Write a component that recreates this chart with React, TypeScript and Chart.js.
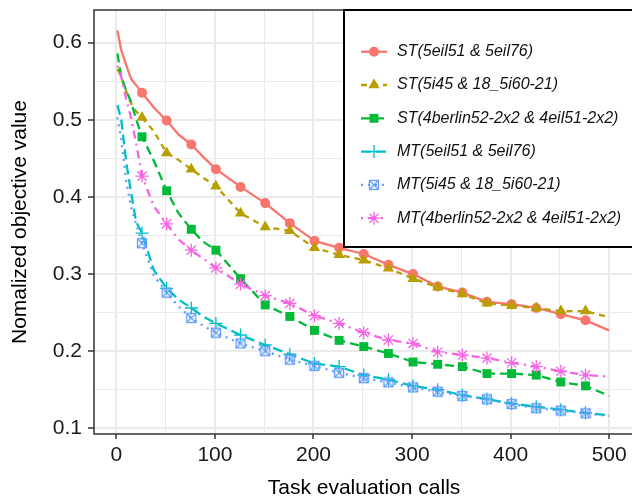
import React, { useEffect, useRef } from 'react';
import { Chart, registerables } from 'chart.js';
Chart.register(...registerables);

// Task evaluation calls at which values were read
const EVALS = [1, 5, 10, 15, 20, 26, 38, 51, 63, 76, 88, 101, 126, 151, 176, 201, 226, 251, 276, 301, 326, 351, 376, 401, 426, 451, 476, 500];

const ST_EIL = [0.616, 0.590, 0.571, 0.553, 0.545, 0.535, 0.516, 0.499, 0.481, 0.468, 0.452, 0.436, 0.413, 0.392, 0.366, 0.343, 0.334, 0.326, 0.312, 0.300, 0.284, 0.276, 0.264, 0.261, 0.256, 0.248, 0.240, 0.227];
const ST_5I45 = [0.566, 0.556, 0.537, 0.521, 0.511, 0.503, 0.485, 0.457, 0.448, 0.436, 0.425, 0.414, 0.379, 0.361, 0.356, 0.334, 0.325, 0.318, 0.3075, 0.294, 0.283, 0.274, 0.262, 0.259, 0.256, 0.252, 0.252, 0.244];
const ST_BERLIN = [0.586, 0.555, 0.538, 0.523, 0.501, 0.478, 0.447, 0.408, 0.379, 0.358, 0.342, 0.331, 0.294, 0.260, 0.245, 0.227, 0.214, 0.206, 0.197, 0.186, 0.183, 0.180, 0.171, 0.171, 0.169, 0.160, 0.155, 0.142];
const MT_EIL = [0.519, 0.500, 0.445, 0.405, 0.368, 0.353, 0.305, 0.2815, 0.267, 0.256, 0.245, 0.236, 0.221, 0.208, 0.196, 0.184, 0.180, 0.169, 0.163, 0.155, 0.150, 0.143, 0.138, 0.132, 0.128, 0.124, 0.120, 0.117];
const MT_5I45 = [0.503, 0.475, 0.420, 0.387, 0.365, 0.340, 0.298, 0.276, 0.258, 0.243, 0.233, 0.224, 0.210, 0.200, 0.189, 0.181, 0.172, 0.165, 0.1595, 0.153, 0.1475, 0.142, 0.1376, 0.1315, 0.126, 0.123, 0.1195, 0.116];
const MT_BERLIN = [0.570, 0.555, 0.527, 0.502, 0.470, 0.427, 0.388, 0.365, 0.345, 0.331, 0.320, 0.308, 0.287, 0.272, 0.262, 0.246, 0.236, 0.224, 0.2145, 0.210, 0.199, 0.195, 0.191, 0.185, 0.180, 0.174, 0.169, 0.167];

const SERIES_NAMES = [
  'ST(5eil51 & 5eil76)',
  'ST(5i45 & 18_5i60-21)',
  'ST(4berlin52-2x2 & 4eil51-2x2)',
  'MT(5eil51 & 5eil76)',
  'MT(5i45 & 18_5i60-21)',
  'MT(4berlin52-2x2 & 4eil51-2x2)',
];
const SERIES_VALUES = [ST_EIL, ST_5I45, ST_BERLIN, MT_EIL, MT_5I45, MT_BERLIN];

const X_TICKS = [0, 50, 100, 150, 200, 250, 300, 350, 400, 450, 500];
const Y_TICKS = [0.1, 0.15, 0.2, 0.25, 0.3, 0.35, 0.4, 0.45, 0.5, 0.55, 0.6];

const COLORS = ['#F8766D', '#B79F00', '#00BA38', '#00BFC4', '#619CFF', '#F564E3'];
const DASHES: number[][] = [[], [6, 5], [9, 5], [10, 5], [2, 5], [2, 5, 8, 5]];
const RADII = [5, 6.5, 6.3, 6.5, 6, 6.5];
const FONT = '"Liberation Sans", Arial, Helvetica, sans-serif';

function makeBoxCross(color: string) {
  const c = document.createElement('canvas');
  c.width = 12;
  c.height = 12;
  const g = c.getContext('2d')!;
  g.strokeStyle = color;
  g.lineWidth = 1.3;
  g.strokeRect(1.5, 1.5, 9, 9);
  g.beginPath();
  g.moveTo(1.5, 1.5); g.lineTo(10.5, 10.5);
  g.moveTo(10.5, 1.5); g.lineTo(1.5, 10.5);
  g.stroke();
  return c;
}

function isMarker(x: number) {
  return x > 1 && x < 500 && (x - 1) % 25 === 0;
}

function drawMarker(ctx: CanvasRenderingContext2D, i: number, x: number, y: number, boxCross: HTMLCanvasElement) {
  const col = COLORS[i];
  const r = RADII[i];
  ctx.save();
  ctx.setLineDash([]);
  ctx.fillStyle = col;
  ctx.strokeStyle = col;
  ctx.lineWidth = 1.3;
  ctx.beginPath();
  if (i === 0) {
    ctx.arc(x, y, r, 0, Math.PI * 2);
    ctx.fill();
  } else if (i === 1) {
    const w = r * Math.sin(Math.PI / 3);
    ctx.moveTo(x, y - r);
    ctx.lineTo(x + w, y + r / 2);
    ctx.lineTo(x - w, y + r / 2);
    ctx.closePath();
    ctx.fill();
  } else if (i === 2) {
    const s = r * Math.SQRT1_2;
    ctx.rect(x - s, y - s, 2 * s, 2 * s);
    ctx.fill();
  } else if (i === 3) {
    ctx.moveTo(x - r, y); ctx.lineTo(x + r, y);
    ctx.moveTo(x, y - r); ctx.lineTo(x, y + r);
    ctx.stroke();
  } else if (i === 4) {
    ctx.drawImage(boxCross, x - boxCross.width / 2, y - boxCross.height / 2);
  } else {
    ctx.moveTo(x - r, y); ctx.lineTo(x + r, y);
    ctx.moveTo(x, y - r); ctx.lineTo(x, y + r);
    const d = r * Math.SQRT1_2;
    ctx.moveTo(x - d, y - d); ctx.lineTo(x + d, y + d);
    ctx.moveTo(x + d, y - d); ctx.lineTo(x - d, y + d);
    ctx.stroke();
  }
  ctx.restore();
}

function zeroPadding(s: any) {
  s.paddingTop = 0;
  s.paddingBottom = 0;
  s.paddingLeft = 0;
  s.paddingRight = 0;
}

export default function App() {
  const ref = useRef<HTMLCanvasElement>(null);

  useEffect(() => {
    const boxCross = makeBoxCross(COLORS[4]);
    const styles: any[] = ['circle', 'triangle', 'rect', 'cross', boxCross, 'star'];

    const datasets = SERIES_VALUES.map((vals, i) => ({
      label: SERIES_NAMES[i],
      data: EVALS.map((x, k) => ({ x, y: vals[k] })),
      borderColor: COLORS[i],
      backgroundColor: COLORS[i],
      borderWidth: 2.3,
      borderDash: DASHES[i],
      borderCapStyle: 'butt',
      borderJoinStyle: 'round',
      tension: 0,
      pointStyle: styles[i],
      pointRadius: (c: any) => (isMarker(EVALS[c.dataIndex]) ? RADII[i] : 0),
      pointBackgroundColor: COLORS[i],
      pointBorderColor: COLORS[i],
      pointBorderWidth: i === 3 || i === 5 ? 1.3 : 0,
      pointHoverRadius: 0,
      order: 5 - i,
    }));

    const panelAndLegend = {
      id: 'panelAndLegend',
      afterDraw(chart: any) {
        const ctx: CanvasRenderingContext2D = chart.ctx;
        const a = chart.chartArea;
        ctx.save();
        ctx.strokeStyle = '#333333';
        ctx.lineWidth = 1.5;
        ctx.strokeRect(a.left, a.top, a.right - a.left, a.bottom - a.top);

        // legend box
        const bx = a.left + 250;
        const by = a.top;
        ctx.fillStyle = '#ffffff';
        ctx.fillRect(bx, by, 320, 237);
        ctx.strokeStyle = '#000000';
        ctx.lineWidth = 2;
        ctx.strokeRect(bx, by, 320, 237);

        for (let i = 0; i < SERIES_NAMES.length; i++) {
          const cy = by + 41.7 + i * 33.3;
          const x0 = bx + 17;
          const x1 = bx + 43;
          ctx.save();
          ctx.strokeStyle = COLORS[i];
          ctx.lineWidth = 2.3;
          ctx.setLineDash(DASHES[i]);
          ctx.beginPath();
          ctx.moveTo(x0, cy);
          ctx.lineTo(x1, cy);
          ctx.stroke();
          ctx.restore();
          drawMarker(ctx, i, (x0 + x1) / 2, cy, boxCross);
          ctx.fillStyle = '#111111';
          ctx.font = `italic 16px ${FONT}`;
          ctx.textAlign = 'left';
          ctx.textBaseline = 'middle';
          ctx.fillText(SERIES_NAMES[i], bx + 53, cy);
        }
        ctx.restore();
      },
    };

    const chart = new Chart(ref.current!, {
      type: 'line',
      data: { datasets } as any,
      options: {
        animation: false,
        responsive: false,
        devicePixelRatio: 1,
        layout: { autoPadding: false, padding: { left: 0, right: 11, top: 10, bottom: 0 } },
        plugins: { legend: { display: false }, tooltip: { enabled: false } },
        scales: {
          x: {
            type: 'linear',
            min: -22.7,
            max: 525.2,
            afterFit: (s: any) => { s.height = 65; zeroPadding(s); },
            afterBuildTicks: (s: any) => { s.ticks = X_TICKS.map((v) => ({ value: v })); },
            border: { display: false },
            grid: {
              color: '#EBEBEB',
              lineWidth: (c: any) => (c.tick && c.tick.value % 100 === 0 ? 2 : 1),
              tickColor: (c: any) => (c.tick && c.tick.value % 100 === 0 ? '#333333' : 'rgba(0,0,0,0)'),
              tickWidth: 1.5,
              tickLength: 5,
              drawTicks: true,
            },
            ticks: {
              autoSkip: false,
              maxRotation: 0,
              padding: 4,
              color: '#1a1a1a',
              font: { family: FONT, size: 21 },
              callback: (v: any) => (Number(v) % 100 === 0 ? String(v) : ''),
            },
            title: {
              display: true,
              text: 'Task evaluation calls',
              color: '#000000',
              font: { family: FONT, size: 21, lineHeight: 1 },
              padding: { top: 0, bottom: 0 },
            },
          },
          y: {
            type: 'linear',
            min: 0.0926,
            max: 0.6424,
            afterFit: (s: any) => { s.width = 94; zeroPadding(s); },
            afterBuildTicks: (s: any) => { s.ticks = Y_TICKS.map((v) => ({ value: v })); },
            border: { display: false },
            grid: {
              color: '#EBEBEB',
              lineWidth: (c: any) => (c.tick && Math.round(c.tick.value * 100) % 10 === 0 ? 2 : 1),
              tickColor: (c: any) => (c.tick && Math.round(c.tick.value * 100) % 10 === 0 ? '#333333' : 'rgba(0,0,0,0)'),
              tickWidth: 1.5,
              tickLength: 6,
              drawTicks: true,
            },
            ticks: {
              autoSkip: false,
              padding: 6,
              color: '#1a1a1a',
              font: { family: FONT, size: 21 },
              callback: (v: any) => (Math.round(Number(v) * 100) % 10 === 0 ? Number(v).toFixed(1) : ''),
            },
            title: {
              display: true,
              text: 'Nomalized objective value',
              color: '#000000',
              font: { family: FONT, size: 21, lineHeight: 1 },
              padding: { top: 10, bottom: 0 },
            },
          },
        },
      },
      plugins: [panelAndLegend],
    } as any);

    return () => chart.destroy();
  }, []);

  return (
    <div style={{ position: 'fixed', left: 0, top: 0, width: 632, height: 499, overflow: 'hidden', background: '#ffffff' }}>
      <canvas ref={ref} width={645} height={499} style={{ display: 'block', width: 645, height: 499 }} />
    </div>
  );
}
